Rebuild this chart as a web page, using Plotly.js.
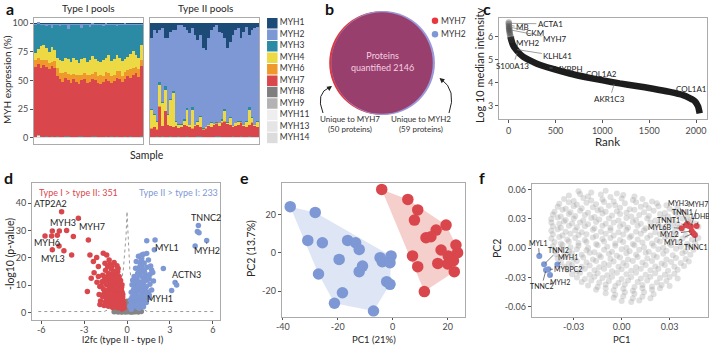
<!DOCTYPE html>
<html><head><meta charset="utf-8">
<script src="https://cdn.plot.ly/plotly-3.0.1.min.js"></script>
<style>html,body{margin:0;padding:0;background:#fff}#fig{width:709px;height:345px}</style>
</head><body><div id="fig"></div>
<script>
// ===================== data =====================
// (a) MYH isoform composition of fibre pools, % per sample
const samples = [1,2,3,4,5,6,7,8,9,10,11,12,13,14,15,16,17,18,19,20,21,22,23,24,25,26,27,28,29,30,31,32,33,34,35,36,37,38,39,40];
const isoforms = ['MYH1','MYH2','MYH3','MYH4','MYH6','MYH7','MYH8','MYH9','MYH11','MYH13','MYH14'];
const isoColors = ['#1d4b78','#7d98d4','#2b8aa4','#ecd944','#ef992c','#d9474c','#7f7f7f','#b3b3b3','#eeeeee','#e5e5e5','#dcdcdc'];

const typeI = {
  MYH1: [0.3,0.2,0.5,0.3,0.8,0.2,0.3,0.2,0.3,0.5,0.2,0.8,0.3,0.2,0.3,0.2,0.5,0.3,0.2,0.3,0.8,0.2,0.3,0.2,0.3,0.5,0.2,0.3,0.8,0.2,0.3,0.2,0.3,0.2,0.5,0.3,0.2,0.3,0.2,0.3],
  MYH2: [1,1.5,1,1,2,1.5,4,1,1,1.5,1,1,5,1,1.5,1,1,4,1,1.5,2,1,1.5,1,1,2,1,1.5,1,1,2,1,1,1.5,1,1,1.5,1,1,1],
  MYH3: [24.7,22.3,18.5,17.7,19.2,23.3,16.7,21.8,28.7,30,31.8,28.2,25.7,32.8,28.2,30.8,33.5,26.7,28.8,32.2,29.2,27.8,29.2,31.8,32.7,29.5,28.8,26.2,31.2,29.8,25.7,28.8,31.7,29.3,27.5,25.7,22.3,26.7,28.8,17.7],
  MYH4: [6,8,12,13,10,10,13,10,9,11,10,13,13,11,14,13,10,14,13,11,13,15,12,13,11,14,13,15,13,14,14,12,13,12,12,13,15,10,10,13],
  MYH6: [6,5,7,4,6,5,3,6,7,6,8,5,6,7,5,6,8,5,6,7,6,5,7,6,8,5,6,7,6,5,6,7,5,6,5,8,6,5,7,5],
  MYH7: [61,62,60,63,61,59,62,60,53,50,48,51,49,47,50,48,46,49,50,47,48,50,49,47,46,48,50,49,47,49,51,50,48,50,53,51,54,56,52,62],
  MYH8: [0.1,0.2,0.1,0.1,0.2,0.1,0.1,0.1,0.2,0.1,0.1,0.1,0.2,0.1,0.1,0.1,0.1,0.2,0.1,0.1,0.1,0.2,0.1,0.1,0.1,0.1,0.2,0.1,0.1,0.1,0.2,0.1,0.1,0.1,0.1,0.2,0.1,0.1,0.1,0.2],
  MYH9: [0.2,0.2,0.3,0.2,0.2,0.2,0.3,0.2,0.2,0.2,0.2,0.3,0.2,0.2,0.2,0.2,0.3,0.2,0.2,0.2,0.2,0.2,0.3,0.2,0.2,0.2,0.2,0.2,0.3,0.2,0.2,0.2,0.2,0.3,0.2,0.2,0.2,0.2,0.2,0.2],
  MYH11:[0.3,1.5,0.3,0.3,0.3,0.3,0.3,0.3,0.3,0.3,0.3,0.3,0.3,0.3,0.3,0.3,0.3,0.3,0.3,0.3,0.3,0.3,0.3,0.3,0.3,0.3,0.3,0.3,0.3,0.3,0.3,0.3,0.3,0.3,0.3,0.3,0.3,0.3,0.3,0.3],
  MYH13:[0.2,0.2,0.2,0.2,0.2,0.2,0.2,0.2,0.2,0.2,0.2,0.2,0.2,0.2,0.2,0.2,0.2,0.2,0.2,0.2,0.2,0.2,0.2,0.2,0.2,0.2,0.2,0.2,0.2,0.2,0.2,0.2,0.2,0.2,0.2,0.2,0.2,0.2,0.2,0.2],
  MYH14:[0.2,0.2,0.2,0.2,0.2,0.2,0.2,0.2,0.2,0.2,0.2,0.2,0.2,0.2,0.2,0.2,0.2,0.2,0.2,0.2,0.2,0.2,0.2,0.2,0.2,0.2,0.2,0.2,0.2,0.2,0.2,0.2,0.2,0.2,0.2,0.2,0.2,0.2,0.2,0.2]
};
const typeII = {
  MYH1: [12.5,5.8,8.7,5.8,4.4,12.5,12.5,7.3,5.8,5.8,1.5,1.5,2.9,5.8,8.7,4.4,10.2,14.6,10.2,21.9,23.3,13.1,5.8,2.9,1.5,7.3,8.7,13.1,21.9,16,10.2,5.8,4.4,13.1,7.3,2.9,10.2,5.8,4.4,2.9],
  MYH2: [62.5,73.7,76.8,45.2,64.6,42.5,67,58.7,53.7,79.7,87,87,81.1,68.2,79.8,69.1,78.3,70.9,70.8,69.8,67.3,75.6,80.7,84.7,85.1,79.7,75.3,61.9,64.7,66,79.3,81.2,80.6,72.5,81.3,82.1,63.3,76.2,84.1,82.1],
  MYH3: [1,0.5,0.5,3,1,3,0.5,1,1.5,0.5,0.5,0.5,1,2,0.5,2.5,0.5,0.5,1,0.5,0.5,0.5,1,0.5,0.5,0.5,1,2,0.5,1,0.5,0.5,1,0.5,0.5,1,2.5,1,0.5,1],
  MYH4: [15.6,10.6,6.6,18.6,19.6,18.6,8.6,22.6,29.6,3.6,2.6,1.6,3.6,13.6,1.6,15.6,0.6,2.6,8.6,0.4,0.5,0.4,3.1,0.5,0.5,2.1,1.6,8.6,0.5,5.6,0.6,2.1,2.6,0.5,0.5,4.6,12.6,3.6,0.6,4.6],
  MYH6: [0.4,0.4,0.3,0.5,0.4,0.4,0.4,0.3,0.4,0.4,0.4,0.5,0.4,0.4,0.3,0.4,0.4,0.4,0.4,0.4,0.5,0.4,0.4,0.3,0.4,0.4,0.4,0.4,0.4,0.4,0.4,0.5,0.4,0.4,0.4,0.3,0.4,0.4,0.4,0.4],
  MYH7: [7,8,6,26,9,22,10,9,8,9,7,8,10,9,8,7,9,10,8,6,7,9,8,10,11,9,12,13,11,10,8,9,10,12,9,8,10,12,9,8],
  MYH8: [0.1,0.1,0.2,0.1,0.1,0.1,0.1,0.2,0.1,0.1,0.1,0.1,0.1,0.2,0.1,0.1,0.1,0.1,0.2,0.1,0.1,0.1,0.1,0.1,0.2,0.1,0.1,0.1,0.1,0.1,0.2,0.1,0.1,0.1,0.1,0.1,0.2,0.1,0.1,0.1],
  MYH9: [0.2,0.2,0.2,0.2,0.3,0.2,0.2,0.2,0.2,0.2,0.3,0.2,0.2,0.2,0.2,0.2,0.2,0.3,0.2,0.2,0.2,0.2,0.2,0.2,0.2,0.3,0.2,0.2,0.2,0.2,0.2,0.2,0.2,0.3,0.2,0.2,0.2,0.2,0.2,0.2],
  MYH11:[0.3,0.3,0.3,0.3,0.3,0.3,0.3,0.3,0.3,0.3,0.3,0.3,0.3,0.3,0.3,0.3,0.3,0.3,0.3,0.3,0.3,0.3,0.3,0.3,0.3,0.3,0.3,0.3,0.3,0.3,0.3,0.3,0.3,0.3,0.3,0.3,0.3,0.3,0.3,0.3],
  MYH13:[0.2,0.2,0.2,0.2,0.2,0.2,0.2,0.2,0.2,0.2,0.2,0.2,0.2,0.2,0.2,0.2,0.2,0.2,0.2,0.2,0.2,0.2,0.2,0.2,0.2,0.2,0.2,0.2,0.2,0.2,0.2,0.2,0.2,0.2,0.2,0.2,0.2,0.2,0.2,0.2],
  MYH14:[0.2,0.2,0.2,0.2,0.2,0.2,0.2,0.2,0.2,0.2,0.2,0.2,0.2,0.2,0.2,0.2,0.2,0.2,0.2,0.2,0.2,0.2,0.2,0.2,0.2,0.2,0.2,0.2,0.2,0.2,0.2,0.2,0.2,0.2,0.2,0.2,0.2,0.2,0.2,0.2]
};

// (b) protein overlap between MYH7 and MYH2 pools
const proteinsTotal = 2146;
const uniqueMYH7 = 50;
const uniqueMYH2 = 59;

// (c) rank vs log10 median intensity
const cRank  = [1,2,3,4,5,7,9,12,15,20,28,46,82,153,295,473,651,829,1007,1185,1363,1541,1719,1861,1932,1986,2021,2039];
const cValue = [6.62,6.55,6.46,6.4,6.35,6.29,6.23,6.16,6.09,6.0,5.86,5.64,5.42,5.13,4.84,4.6,4.4,4.24,4.1,3.97,3.86,3.74,3.6,3.46,3.33,3.2,2.98,2.67];
const cNames = ['ACTA1','MB','CKM','MYH7','MYH2','KLHL41','S100A13','MYBPH','COL1A2','AKR1C3','COL1A1'];
const cNameRank  = [2,4,6,12,22,75,95,420,830,1130,1780];
const cNameValue = [6.58,6.5,6.42,6.3,6.05,5.45,5.35,4.65,4.24,4.0,3.58];

// (d) volcano: [l2fc, -log10 p]
const dUpTypeI = [
  [-4.57,36.9],[-3.40,34.5],[-5.22,29.8],[-4.73,29.8],[-4.22,30.0],[-5.73,28.0],[-5.27,28.0],[-4.87,28.3],[-3.75,27.8],[-4.75,24.3],
  [-5.22,22.9],[-4.41,22.6],[-3.87,21.0],[-2.70,26.5],[-2.59,21.0],[-2.12,20.1],[-1.66,21.7],[-1.42,21.0],[-2.35,18.6],[-2.00,16.8],
  [-1.54,18.0],[-2.77,7.6],[-1.89,2.9],[-2.00,13.1],
  [-1.2,17.6],[-0.9,18.3],[-1.05,16.9],[-1.5,15.4],[-1.1,15.9],[-0.8,15.2],[-0.62,16.1],
  [-1.7,13.6],[-1.3,14.2],[-1.0,13.3],[-0.75,14.0],[-0.55,13.1],
  [-1.6,11.8],[-1.35,11.2],[-1.15,12.1],[-0.95,11.5],[-0.8,12.3],[-0.6,11.0],[-0.45,11.7],
  [-1.8,9.6],[-1.45,10.2],[-1.25,9.3],[-1.05,9.9],[-0.9,9.1],[-0.75,10.1],[-0.6,9.4],[-0.5,9.9],[-0.38,9.2],
  [-1.55,7.7],[-1.3,8.2],[-1.1,7.4],[-0.95,8.0],[-0.82,7.2],[-0.7,7.9],[-0.58,7.3],[-0.47,8.1],[-0.35,7.5],
  [-1.7,5.8],[-1.4,5.3],[-1.2,6.1],[-1.0,5.5],[-0.88,6.3],[-0.75,5.2],[-0.63,5.9],[-0.52,5.4],[-0.42,6.0],[-0.3,5.6],
  [-1.5,3.8],[-1.2,3.3],[-1.0,4.1],[-0.85,3.5],[-0.72,4.2],[-0.6,3.1],[-0.5,3.9],[-0.4,3.4],[-0.32,4.3],[-0.24,3.6],
  [-1.3,2.2],[-1.0,1.8],[-0.8,2.4],[-0.65,1.7],[-0.52,2.3],[-0.42,1.9],[-0.33,2.6],[-0.26,2.1],[-0.2,1.7],
  [-2.3,14.5],[-2.1,11.0],[-1.9,9.5],[-2.5,12.5],[-1.95,6.5],[-1.25,19.2],[-0.7,12.8],[-0.88,4.7],[-1.12,10.6],[-0.66,6.8],
  [-0.95,14.6],[-1.45,4.5],[-0.55,4.8],[-0.4,5.0],[-0.28,2.9],
  [-1.35,16.8],[-0.7,17.1],[-1.2,13.0],[-0.88,12.9],[-0.65,14.9],[-1.55,13.0],[-1.5,10.9],[-0.7,11.4],[-0.52,10.5],[-1.65,8.6],
  [-1.2,8.9],[-0.87,8.6],[-0.62,8.4],[-0.4,8.6],[-0.3,6.6],[-1.85,4.2],[-1.6,2.5],[-1.1,2.8],[-0.92,2.3],[-0.75,3.0],
  [-0.45,2.7],[-0.35,1.2],[-1.62,6.7],[-1.35,6.5],[-1.08,6.4],[-0.78,6.1],[-0.55,6.4],[-1.3,4.4],[-1.15,4.8],[-0.95,4.5],
  [-0.65,4.6],[-0.28,4.3],[-0.22,2.9],[-0.8,9.7],[-1.0,10.8],[-1.4,12.6],[-0.6,12.4],[-1.75,11.2],[-0.35,10.1]
];
const dUpTypeII = [
  [1.38,26.2],[1.96,26.5],[1.91,22.9],[4.99,31.8],[4.92,29.6],[5.03,29.2],[4.76,24.3],[5.57,26.3],[2.54,16.1],[3.36,10.9],
  [3.47,10.0],[3.12,8.0],[1.56,5.4],[1.03,21.0],
  [0.8,20.6],[1.0,19.2],[1.15,21.3],[0.95,18.1],[0.6,16.2],[0.85,15.6],[1.05,16.8],[1.2,15.3],[1.4,16.5],
  [0.5,13.1],[0.7,12.5],[0.9,13.7],[1.1,12.8],[1.3,13.5],[1.55,12.2],
  [0.35,10.1],[0.55,9.6],[0.75,10.6],[0.95,9.8],[1.15,10.9],[1.35,9.4],[1.6,10.3],
  [0.3,7.4],[0.45,8.1],[0.65,7.2],[0.85,7.9],[1.05,7.0],[1.25,8.3],[1.5,7.5],
  [0.25,4.6],[0.4,3.9],[0.6,4.8],[0.8,4.1],[1.0,4.9],[1.2,3.8],
  [0.2,2.2],[0.35,1.8],[0.55,2.5],[0.75,1.9],[0.95,2.4],
  [1.72,15.5],[1.38,11.9],[1.14,8.2],[1.72,8.2],[1.38,21.6],[1.03,19.8],[0.9,11.1],[1.25,14.4],[0.7,5.8],[1.1,5.6],
  [0.5,6.3],[1.45,5.9],[1.6,13.9],[1.85,11.5],
  [0.4,11.8],[0.62,11.2],[0.85,10.4],[1.25,11.5],[1.45,12.8],[0.75,14.3],[1.0,14.9],[0.5,8.8],[0.75,8.8],[0.95,8.6],
  [1.15,9.7],[1.35,7.1],[0.35,5.5],[0.55,5.3],[0.9,5.8],[1.3,5.2],[1.55,6.4],[0.3,3.2],[0.5,3.4],[0.7,3.3],
  [0.9,3.5],[1.1,3.0],[1.35,3.6],[0.3,1.1],[0.45,2.9],[0.65,2.6],[0.85,1.5],[1.15,2.1],[0.65,18.6],[1.2,18.1],
  [1.5,19.2],[0.9,16.9],[1.65,17.0],[1.8,14.6]
];
const dNotSig = [
  [-0.5,0.4],[-0.35,1.2],[-0.2,0.3],[-0.1,2.1],[0,0.6],[0.1,1.5],[0.2,0.2],[0.35,0.9],[0.5,0.4],[-0.45,1.9],
  [-0.28,2.6],[-0.15,1.0],[0.05,0.2],[0.15,2.8],[0.28,1.8],[0.42,0.1],[-0.6,0.1],[-0.05,3.2],[0.08,1.1],[-0.25,0.7],
  [0.22,0.5],[0.6,0.2],[-0.75,0.3],[0.8,0.1],[-0.38,0.15],[0.3,2.4],[-0.12,1.7],[0.18,1.3],[-0.02,1.6],[0.45,1.4],
  [-0.55,1.0],[-0.9,0.2],[1.0,0.3],[-0.32,0.5],[0.12,0.8],[0.02,2.5],[-0.08,0.4],[0.38,0.5],[0.1,3.6],[-0.18,3.0],
  [-0.65,0.8],[-0.42,0.6],[-0.3,1.6],[-0.22,2.3],[-0.08,2.8],[0.03,1.2],[0.13,0.4],[0.25,1.1],[0.32,0.3],[0.48,0.9],
  [0.55,1.7],[-0.58,1.5],[-0.48,2.6],[-0.15,3.6],[0.2,3.1],[0.35,2.0],[-0.05,0.9],[0.07,2.0],[-0.35,0.2],[0.62,0.7],
  [-0.7,0.6],[0.7,1.1],[-0.12,0.1],[0.28,0.1],[0.0,4.1],[-0.25,1.3],[0.15,1.9],[0.42,2.6],[-0.4,2.3],[-0.02,0.3]
];
const dCountTypeI = 351, dCountTypeII = 233;
const dNames = ['ATP2A2','MYH3','MYH7','MYH6','MYL3','TNNC2','MYH2','MYL1','ACTN3','MYH1'];
const dNamePts = [[-4.57,36.9],[-5.27,29.8],[-3.40,34.5],[-4.75,24.3],[-5.22,22.9],[4.99,31.8],[5.57,26.3],[1.96,26.5],[3.36,10.9],[1.56,5.4]];
const dThreshLeft  = [[-6.2,0.3],[-1.6,0.3],[-1.1,1.5],[-0.6,5.7],[-0.26,15.5],[-0.07,27.8],[0,36.6]];
const dThreshRight = [[0,36.6],[0.07,27.8],[0.2,15.5],[0.5,6],[0.9,2],[1.4,0.3],[6.2,0.3]];

// (e) PCA of samples: [PC1, PC2]
const eTypeII = [[-37.3,24.0],[-28.2,21.0],[-30.9,6.4],[-25.6,5.2],[-16.4,6.4],[-13.5,5.2],[-12.2,1.7],[-19.5,-3.5],[-27.0,-11.1],[-11.0,-7.0],
  [-12.2,-9.9],[-18.3,-20.9],[-21.2,-26.4],[-7.0,-30.4],[-4.6,-2.6],[-3.8,-4.7],[-0.6,-1.7],[-1.0,-5.2],[-2.2,-15.1],[-1.0,-16.5]];
const eTypeI = [[-4.0,33.0],[5.5,27.8],[9.1,22.3],[7.9,17.0],[19.4,14.4],[15.8,11.8],[13.9,8.3],[12.1,7.8],[23.0,4.0],[17.6,1.4],
  [23.6,0.0],[7.2,-1.7],[20.2,-1.7],[21.5,-3.0],[16.4,-5.6],[20.0,-5.9],[22.1,-4.2],[9.1,-7.3],[22.4,-9.9],[11.5,-20.3]];

// (f) protein loadings, PC1/PC2 in thousandths
const fCloud = [
  [-27,58.5],[-19,57],[-10,59],[-3,56],
  [-33,54],[-26,55.5],[-21,53],[-13,55],[-7,52.5],[1,54.5],[8,53],
  [-36,50.5],[-30,48.5],[-24,51.5],[-19,49],[-12,50],[-5,48],[0,51],[7,49.5],[13,50.5],[19,48],
  [-39,45.5],[-33,47],[-28,44.5],[-22,46.5],[-16,45],[-11,47.5],[-4,44],[2,46],[9,47],[15,44.5],[22,46],[28,44],
  [-40,42.5],[-35,40.5],[-30,43],[-25,41],[-18,42],[-13,40],[-8,43.5],[-1,41.5],[5,40],[12,42.5],[17,41],[23,43],[30,40.5],[35,42],
  [-42,37.5],[-37,39.5],[-32,37],[-26,38.5],[-21,36.5],[-15,39],[-10,37.5],[-3,38],[3,36.5],[8,39.5],[14,37],[20,38.5],[27,36],[33,38],[38,37],
  [-43,34.5],[-38,32.5],[-33,35],[-29,33],[-23,34],[-17,32],[-12,35.5],[-6,33.5],[-1,35],[6,32.5],[11,34],[17,33],[24,35],[29,32.5],[35,34.5],[41,33],
  [-44,30],[-40,31.5],[-35,29],[-30,30.5],[-24,28.5],[-19,31],[-14,29.5],[-8,30.5],[-2,28.5],[3,31],[9,29],[16,30.5],[21,28.5],[26,31],[32,29],[38,30.5],[43,29],
  [-44,26.5],[-39,25],[-36,27.5],[-31,25.5],[-26,26.5],[-21,24.5],[-16,27],[-10,25],[-5,26.5],[1,24.5],[7,27],[12,25],[18,26.5],[23,24],[29,26],[35,25],[42,27],[46,25.5],
  [-43,22.5],[-38,21],[-33,23],[-28,21.5],[-23,22.5],[-17,20.5],[-12,23],[-7,21],[-1,22.5],[4,21],[10,23],[15,20.5],[20,22],[26,21.5],[32,23],[36,21],[48,22],
  [-44,18],[-40,19.5],[-35,17],[-29,18.5],[-25,16.5],[-18,19],[-13,17],[-7,18.5],[-2,16.5],[3,19],[9,17],[14,18.5],[21,16.5],[27,18],[33,17],[38,19],
  [-43,14.5],[-37,13],[-32,15],[-27,13.5],[-22,14.5],[-16,12.5],[-10,15],[-5,13],[1,14],[6,12.5],[12,15],[18,13],[24,14.5],[29,12.5],[34,14],[40,13],[46,14.5],
  [-44,10],[-39,11.5],[-34,9],[-29,10.5],[-23,8.5],[-18,11],[-12,9.5],[-7,10.5],[-1,8.5],[5,11],[10,9],[16,10.5],[22,8.5],[27,11],[32,9.5],[38,10],[44,9],[48,10.5],
  [-42,6.5],[-38,5],[-33,7],[-27,5.5],[-22,6.5],[-16,4.5],[-11,7],[-4,5],[1,6.5],[7,4.5],[13,6],[19,5],[24,7],[30,5],[36,6.5],[41,4.5],[46,6],
  [-43,2],[-37,3.5],[-32,1],[-27,2.5],[-21,0.5],[-15,3],[-9,1.5],[-4,2.5],[3,0.5],[8,3],[14,1],[20,2.5],[26,0.5],[31,3],[37,1.5],[42,2.5],
  [-42,-2.5],[-38,-0.5],[-33,-3],[-28,-1],[-22,-2],[-17,-4],[-11,-1.5],[-6,-3.5],[0,-1],[5,-3],[11,-1.5],[17,-3.5],[23,-1],[28,-2.5],[34,-0.5],[40,-3],[45,-1.5],
  [-41,-6],[-36,-7.5],[-31,-5],[-25,-6.5],[-20,-4.5],[-14,-7],[-8,-5.5],[-3,-7.5],[3,-5],[9,-6.5],[15,-4.5],[20,-7],[26,-5.5],[32,-7],[38,-5],[43,-6.5],
  [-40,-10.5],[-35,-9],[-30,-11],[-24,-9.5],[-18,-11.5],[-13,-9],[-7,-11],[-1,-9.5],[4,-11.5],[10,-9],[16,-10.5],[22,-9],[28,-11.5],[34,-10],[40,-11],
  [-38,-14],[-33,-15.5],[-28,-13],[-22,-14.5],[-16,-13],[-11,-15.5],[-5,-13.5],[1,-15],[7,-13],[13,-14.5],[19,-13],[25,-15.5],[31,-14],[37,-15],[42,-13.5],
  [-36,-18.5],[-31,-17],[-25,-19],[-20,-17.5],[-14,-19.5],[-8,-17],[-2,-19],[3,-17.5],[9,-19.5],[15,-17],[21,-18.5],[27,-17],[33,-19],[39,-18],
  [-34,-22],[-28,-23.5],[-23,-21],[-17,-22.5],[-11,-21],[-6,-23.5],[0,-21.5],[6,-23],[12,-21],[18,-22.5],[23,-21],[29,-23],[35,-22],
  [-31,-26.5],[-26,-25],[-20,-27],[-15,-25.5],[-9,-27.5],[-3,-25],[3,-26.5],[9,-25],[15,-27],[21,-25.5],[27,-27],[33,-26],
  [-28,-30],[-23,-31.5],[-17,-29],[-12,-30.5],[-6,-29],[0,-31.5],[6,-29.5],[12,-31],[18,-29],[24,-30.5],[30,-29.5],[35,-31],
  [-25,-34.5],[-19,-33],[-14,-35],[-8,-33.5],[-2,-35.5],[4,-33],[10,-34.5],[16,-33],[22,-35],[28,-33.5],
  [-21,-38],[-15,-39.5],[-10,-37],[-4,-38.5],[2,-37],[8,-39.5],[13,-37.5],[19,-39],[25,-37.5],[30,-38.5],
  [-16,-42.5],[-10,-41],[-5,-43],[1,-41.5],[7,-43.5],[13,-41],[19,-42.5],[24,-41],
  [-10,-46],[-4,-47.5],[2,-45],[8,-46.5],[14,-45],[20,-47],
  [-5,-50.5],[1,-49],[7,-51],[13,-49.5],[18,-51],
  [0,-54],[6,-55],[11,-53.5]
];
const fTypeINames = ['MYH3','TNNT1','TNNI1','MYH7','LDHB','MYL6B','MYL2','MYL3','TNNC1'];
const fTypeIPts = [[0.0410,0.0249],[0.0402,0.0235],[0.0421,0.0229],[0.0433,0.0222],[0.0469,0.0229],[0.0375,0.0205],[0.0438,0.0177],[0.0448,0.0154],[0.0458,0.0137]];
const fTypeIINames = ['MYL1','TNNI2','MYH1','MYBPC2','MYH2','TNNC2'];
const fTypeIIPts = [[-0.0515,-0.0078],[-0.0485,-0.0164],[-0.0402,-0.0167],[-0.0458,-0.0215],[-0.0448,-0.0273],[-0.0473,-0.0222]];

// ===================== drawing =====================
const RED = '#d9474c', BLUE = '#7d98d4';
const FONT = 'Lato, "Noto Sans", sans-serif';
const W = 709, H = 345;
const X = p => p / W, Y = p => 1 - p / H;
const col = arr => arr.map(p => p[0]), row = arr => arr.map(p => p[1]);

const traces = [];
const ann = [];
const shapes = [];

function baseAxis(dom, range, extra) {
  return Object.assign({
    domain: dom, range: range, autorange: false, showgrid: false, zeroline: false,
    showline: true, mirror: true, linecolor: '#ababab', linewidth: 1,
    ticks: 'outside', ticklen: 3, tickwidth: 1, tickcolor: '#555',
    tickfont: {size: 9, color: '#4a4a4a'}, fixedrange: true
  }, extra || {});
}
function paperText(px, py, text, o) {
  ann.push(Object.assign({xref: 'paper', yref: 'paper', x: X(px), y: Y(py), text: text, showarrow: false,
    xanchor: 'center', yanchor: 'middle', font: {size: 10.5, color: '#262626'}}, o || {}));
}
function leader(axId, pt, tp, text, size, o) {
  const xr = 'x' + axId, yr = 'y' + axId;
  ann.push(Object.assign({xref: xr, yref: yr, axref: xr, ayref: yr, x: pt[0], y: pt[1], ax: tp[0], ay: tp[1],
    text: text, showarrow: true, arrowhead: 0, arrowwidth: 0.7, arrowcolor: '#444', standoff: 1.5,
    font: {size: size, color: '#222'}}, o || {}));
}

// ---- (a) stacked bars, bottom-to-top order
const stackOrder = isoforms.slice().reverse();
[[typeI, 'x', 'y'], [typeII, 'x2', 'y2']].forEach(([facet, xa, ya]) => {
  stackOrder.forEach(name => {
    traces.push({type: 'bar', x: samples, y: facet[name], xaxis: xa, yaxis: ya, name: name,
      marker: {color: isoColors[isoforms.indexOf(name)], line: {width: 0}}, showlegend: false, hoverinfo: 'skip'});
  });
});
// legend column for (a)
traces.push({type: 'scatter', mode: 'markers+text', xaxis: 'x8', yaxis: 'y8',
  x: isoforms.map(() => 0), y: isoforms.map((_, i) => i), text: isoforms, textposition: 'middle right',
  textfont: {size: 8.5, color: '#333'}, marker: {symbol: 'square', size: 10.5, color: isoColors}, showlegend: false, hoverinfo: 'skip'});

// ---- (b) Venn
const R = 52, cx = 382, cy = 63;
const shift = (uniqueMYH7 + uniqueMYH2) / proteinsTotal * Math.PI * R / 4;
const r7 = R * Math.sqrt((proteinsTotal - uniqueMYH2) / proteinsTotal) + 0.5;
const r2 = R * Math.sqrt((proteinsTotal - uniqueMYH7) / proteinsTotal) + 0.5;
shapes.push({type: 'circle', xref: 'x3', yref: 'y3', x0: cx - shift / 2 - r7, x1: cx - shift / 2 + r7, y0: cy - r7, y1: cy + r7, fillcolor: '#e0363e', line: {width: 0}, layer: 'below'});
shapes.push({type: 'circle', xref: 'x3', yref: 'y3', x0: cx + shift / 2 - r2, x1: cx + shift / 2 + r2, y0: cy - r2, y1: cy + r2, fillcolor: '#9a98d8', line: {width: 0}, layer: 'below'});
const ri = Math.min(r7, r2) - shift / 2;
shapes.push({type: 'circle', xref: 'x3', yref: 'y3', x0: cx - ri, x1: cx + ri, y0: cy - ri, y1: cy + ri, fillcolor: '#993f6e', line: {width: 0}, layer: 'below'});
shapes.push({type: 'path', xref: 'x3', yref: 'y3', path: 'M 323,113 Q 315,93 330,87', line: {color: '#222', width: 1}});
shapes.push({type: 'path', xref: 'x3', yref: 'y3', path: 'M 449,113 Q 457,90 441,79', line: {color: '#222', width: 1}});
ann.push({xref: 'x3', yref: 'y3', axref: 'x3', ayref: 'y3', x: 332, y: 86, ax: 328.5, ay: 88.5, text: '', showarrow: true, arrowhead: 2, arrowsize: 1, arrowwidth: 1, arrowcolor: '#222'});
ann.push({xref: 'x3', yref: 'y3', axref: 'x3', ayref: 'y3', x: 439.5, y: 78, ax: 443, ay: 81, text: '', showarrow: true, arrowhead: 2, arrowsize: 1, arrowwidth: 1, arrowcolor: '#222'});
ann.push({xref: 'x3', yref: 'y3', x: cx, y: 61, text: 'Proteins<br>quantified ' + proteinsTotal, showarrow: false, font: {size: 9, color: '#f3cfe0'}});
ann.push({xref: 'x3', yref: 'y3', x: 350, y: 123.5, text: 'Unique to MYH7<br>(' + uniqueMYH7 + ' proteins)', showarrow: false, font: {size: 8, color: '#333'}});
ann.push({xref: 'x3', yref: 'y3', x: 421, y: 123.5, text: 'Unique to MYH2<br>(' + uniqueMYH2 + ' proteins)', showarrow: false, font: {size: 8, color: '#333'}});
traces.push({type: 'scatter', mode: 'markers', xaxis: 'x3', yaxis: 'y3', x: [435, 435], y: [20.7, 34.3],
  marker: {size: 6.5, color: ['#e8363d', '#7d98d4']}, showlegend: false, hoverinfo: 'skip'});
ann.push({xref: 'x3', yref: 'y3', x: 439, y: 20.7, text: 'MYH7', xanchor: 'left', showarrow: false, font: {size: 8.5, color: '#333'}});
ann.push({xref: 'x3', yref: 'y3', x: 439, y: 34.3, text: 'MYH2', xanchor: 'left', showarrow: false, font: {size: 8.5, color: '#333'}});

// ---- (c) rank plot
traces.push({type: 'scatter', mode: 'lines', xaxis: 'x4', yaxis: 'y4', x: cRank.slice(9), y: cValue.slice(9),
  line: {color: 'rgba(10,10,10,0.92)', width: 6.5, shape: 'spline', smoothing: 0.6}, showlegend: false, hoverinfo: 'skip'});
traces.push({type: 'scatter', mode: 'markers', xaxis: 'x4', yaxis: 'y4', x: cRank.slice(0, 11), y: cValue.slice(0, 11),
  marker: {size: 6.5, color: 'rgba(60,60,60,0.35)'}, showlegend: false, hoverinfo: 'skip'});
const cTextPos = [[445,6.56],[150,6.4],[285,6.18],[495,5.92],[205,5.73],[525,5.16],[45,4.72],[640,4.58],[995,4.36],[1078,3.28],[1953,3.71]];
cNames.forEach((n, i) => leader(4, [cNameRank[i], cNameValue[i]], cTextPos[i], n, 8, {arrowcolor: '#777'}));

// ---- (d) volcano
traces.push({type: 'scatter', mode: 'lines', xaxis: 'x5', yaxis: 'y5', x: col(dThreshLeft), y: row(dThreshLeft),
  line: {color: '#9a9a9a', width: 1, dash: 'dot'}, showlegend: false, hoverinfo: 'skip'});
traces.push({type: 'scatter', mode: 'lines', xaxis: 'x5', yaxis: 'y5', x: col(dThreshRight), y: row(dThreshRight),
  line: {color: '#9a9a9a', width: 1, dash: 'dot'}, showlegend: false, hoverinfo: 'skip'});
traces.push({type: 'scatter', mode: 'markers', xaxis: 'x5', yaxis: 'y5', x: col(dNotSig), y: row(dNotSig),
  marker: {size: 5.5, color: '#858585'}, showlegend: false, hoverinfo: 'skip'});
traces.push({type: 'scatter', mode: 'markers', xaxis: 'x5', yaxis: 'y5', x: col(dUpTypeI), y: row(dUpTypeI),
  marker: {size: 5.5, color: RED}, showlegend: false, hoverinfo: 'skip'});
traces.push({type: 'scatter', mode: 'markers', xaxis: 'x5', yaxis: 'y5', x: col(dUpTypeII), y: row(dUpTypeII),
  marker: {size: 5.5, color: BLUE}, showlegend: false, hoverinfo: 'skip'});
const dTextPos = [[-5.38,40.0],[-4.45,33.0],[-2.47,31.4],[-5.6,25.7],[-5.15,19.6],[5.5,34.7],[5.57,22.5],[2.77,23.7],[4.17,13.9],[2.3,4.9]];
dNames.forEach((n, i) => leader(5, dNamePts[i], dTextPos[i], n, 9));
ann.push({xref: 'x5', yref: 'y5', x: -3.4, y: 43.8, text: 'Type I > type II: ' + dCountTypeI, showarrow: false, font: {size: 9, color: RED}});
ann.push({xref: 'x5', yref: 'y5', x: 3.6, y: 43.8, text: 'Type II > type I: ' + dCountTypeII, showarrow: false, font: {size: 9, color: BLUE}});

// ---- (e) PCA with convex hulls
function hull(pts) {
  const p = pts.slice().sort((a, b) => a[0] - b[0] || a[1] - b[1]);
  const cross = (o, a, b) => (a[0] - o[0]) * (b[1] - o[1]) - (a[1] - o[1]) * (b[0] - o[0]);
  const lo = [], up = [];
  p.forEach(q => { while (lo.length >= 2 && cross(lo[lo.length - 2], lo[lo.length - 1], q) <= 0) lo.pop(); lo.push(q); });
  p.slice().reverse().forEach(q => { while (up.length >= 2 && cross(up[up.length - 2], up[up.length - 1], q) <= 0) up.pop(); up.push(q); });
  const h = lo.slice(0, -1).concat(up.slice(0, -1));
  h.push(h[0]);
  return h;
}
[[eTypeII, 'rgba(125,152,212,0.25)'], [eTypeI, 'rgba(228,130,120,0.38)']].forEach(([pts, fc]) => {
  const h = hull(pts);
  traces.push({type: 'scatter', mode: 'lines', xaxis: 'x6', yaxis: 'y6', x: col(h), y: row(h), fill: 'toself',
    fillcolor: fc, line: {width: 0}, showlegend: false, hoverinfo: 'skip'});
});
traces.push({type: 'scatter', mode: 'markers', xaxis: 'x6', yaxis: 'y6', x: col(eTypeII), y: row(eTypeII),
  marker: {size: 11.5, color: BLUE}, showlegend: false, hoverinfo: 'skip'});
traces.push({type: 'scatter', mode: 'markers', xaxis: 'x6', yaxis: 'y6', x: col(eTypeI), y: row(eTypeI),
  marker: {size: 11.5, color: RED}, showlegend: false, hoverinfo: 'skip'});

// ---- (f) loadings
traces.push({type: 'scatter', mode: 'markers', xaxis: 'x7', yaxis: 'y7', x: fCloud.map(p => p[0] / 1000), y: fCloud.map(p => p[1] / 1000),
  marker: {size: 6, color: 'rgba(140,140,140,0.27)'}, showlegend: false, hoverinfo: 'skip'});
traces.push({type: 'scatter', mode: 'markers', xaxis: 'x7', yaxis: 'y7', x: col(fTypeIPts), y: row(fTypeIPts),
  marker: {size: 6, color: RED}, showlegend: false, hoverinfo: 'skip'});
traces.push({type: 'scatter', mode: 'markers', xaxis: 'x7', yaxis: 'y7', x: col(fTypeIIPts), y: row(fTypeIIPts),
  marker: {size: 6, color: BLUE}, showlegend: false, hoverinfo: 'skip'});
const fTextI = [[0.0352,0.0465],[0.0292,0.029],[0.0382,0.0376],[0.0479,0.0454],[0.0490,0.0328],[0.0242,0.0217],[0.0302,0.0145],[0.0327,0.0066],[0.0468,0.001]];
const fTextII = [[-0.0521,0.0058],[-0.0392,-0.0013],[-0.0333,-0.0085],[-0.0333,-0.0212],[-0.0385,-0.0341],[-0.05,-0.0386]];
fTypeINames.forEach((n, i) => leader(7, fTypeIPts[i], fTextI[i], n, 7));
fTypeIINames.forEach((n, i) => leader(7, fTypeIIPts[i], fTextII[i], n, 7));

// ---- titles and panel letters
paperText(88, 8, 'Type I pools', {font: {size: 10, color: '#262626'}});
paperText(205, 8, 'Type II pools', {font: {size: 10, color: '#262626'}});
paperText(147, 155, 'Sample');
paperText(7, 80, 'MYH expression (%)', {textangle: -90, font: {size: 10, color: '#262626'}});
paperText(480, 65, 'Log 10 median intensity', {textangle: -90, font: {size: 11, color: '#262626'}});
paperText(607, 141, 'Rank', {font: {size: 11.5, color: '#262626'}});
paperText(10, 254, '-log10 (p-value)', {textangle: -90});
const bottomTitle = {size: 9.5, color: '#262626'};
paperText(123, 339, 'l2fc (type II - type I)', {font: bottomTitle});
paperText(251, 249, 'PC2 (13.7%)', {textangle: -90});
paperText(374, 339, 'PC1 (21%)', {font: bottomTitle});
paperText(497, 249, 'PC2', {textangle: -90});
paperText(622, 339, 'PC1', {font: bottomTitle});
const letter = {size: 16, color: '#111', family: 'Lato, sans-serif', weight: 'bold'};
paperText(10, 9, '<b>a</b>', {font: letter});
paperText(329, 9, '<b>b</b>', {font: letter});
paperText(487, 9, '<b>c</b>', {font: letter});
paperText(8, 177, '<b>d</b>', {font: letter});
paperText(244, 177, '<b>e</b>', {font: letter});
paperText(482, 177, '<b>f</b>', {font: letter});

// ---- axes
const hidden = {visible: false, showgrid: false, zeroline: false, fixedrange: true};
const barX = {ticks: '', showticklabels: false, type: 'linear'};
const tightX = {ticklen: 2.5, ticklabelstandoff: -1};
const layout = {
  width: W, height: H, margin: {l: 0, r: 0, t: 0, b: 0}, paper_bgcolor: '#fff', plot_bgcolor: 'rgba(0,0,0,0)',
  font: {family: FONT, color: '#262626'}, showlegend: false, barmode: 'stack', bargap: 0,
  xaxis:  baseAxis([X(34), X(143)], [0.4, 40.6], Object.assign({anchor: 'y'}, barX)),
  yaxis:  baseAxis([Y(144), Y(17.5)], [-5.5, 105.1], {anchor: 'x', tickvals: [0, 25, 50, 75, 100]}),
  xaxis2: baseAxis([X(150), X(259)], [0.4, 40.6], Object.assign({anchor: 'y2'}, barX)),
  yaxis2: baseAxis([Y(144), Y(17.5)], [-5.5, 105.1], {anchor: 'x2', ticks: '', showticklabels: false}),
  xaxis3: Object.assign({domain: [X(310), X(470)], range: [310, 470], anchor: 'y3'}, hidden),
  yaxis3: Object.assign({domain: [Y(150), Y(0)], range: [150, 0], anchor: 'x3'}, hidden),
  xaxis4: baseAxis([X(499), X(707)], [-103, 2117], {anchor: 'y4', tickvals: [0, 500, 1000, 1500, 2000]}),
  yaxis4: baseAxis([Y(119.3), Y(18.3)], [2.41, 6.8], {anchor: 'x4', tickvals: [3, 4, 5, 6]}),
  xaxis5: baseAxis([X(32), X(220)], [-6.64, 6.5], Object.assign({anchor: 'y5', tickvals: [-6, -3, 0, 3, 6], ticktext: ['-6', '-3', '0', '3', '6']}, tightX)),
  yaxis5: baseAxis([Y(320), Y(183)], [-2.8, 47.4], {anchor: 'x5', tickvals: [0, 10, 20, 30, 40]}),
  xaxis6: baseAxis([X(281.7), X(465)], [-40.4, 26.3], Object.assign({anchor: 'y6', tickvals: [-40, -20, 0, 20], ticktext: ['-40', '-20', '0', '20']}, tightX)),
  yaxis6: baseAxis([Y(316.7), Y(183.3)], [-33.4, 36.2], {anchor: 'x6', tickvals: [-20, 0, 20], ticktext: ['-20', '0', '20']}),
  xaxis7: baseAxis([X(531.7), X(708)], [-0.05625, 0.054], Object.assign({anchor: 'y7', tickvals: [-0.03, 0, 0.03], ticktext: ['-0.03', '0.00', '0.03']}, tightX)),
  yaxis7: baseAxis([Y(316.7), Y(184)], [-0.070, 0.0658], {anchor: 'x7', tickvals: [-0.06, -0.03, 0, 0.03, 0.06], ticktext: ['-0.06', '-0.03', '0.00', '0.03', '0.06']}),
  xaxis8: Object.assign({domain: [X(262), X(322)], range: [-1, 4.83], anchor: 'y8'}, hidden),
  yaxis8: Object.assign({domain: [Y(143.7), Y(17.57)], range: [10.5, -0.5], anchor: 'x8'}, hidden),
  annotations: ann, shapes: shapes
};
Plotly.newPlot('fig', traces, layout, {staticPlot: true, displayModeBar: false});
</script>
</body></html>
